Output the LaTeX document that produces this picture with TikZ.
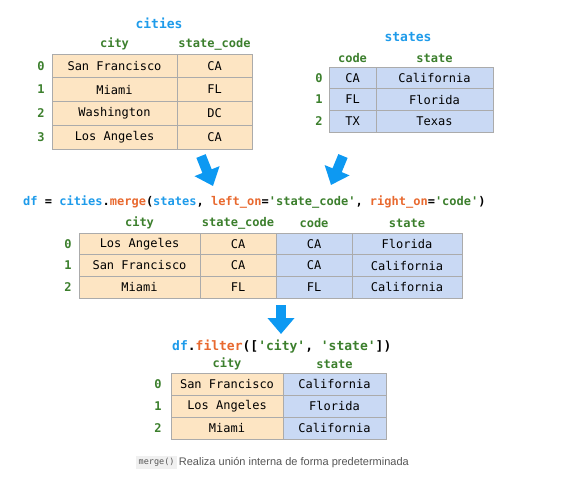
\documentclass[tikz,border=0pt]{standalone}
\usepackage{fontspec}
\setmonofont{DejaVu Sans Mono}
\setsansfont{Liberation Sans}
\usetikzlibrary{arrows.meta}

\definecolor{peach}{HTML}{FDE5C3}
\definecolor{lightblue}{HTML}{C9D9F4}
\definecolor{gridgray}{HTML}{ABABAB}
\definecolor{hdrgreen}{HTML}{3C7F2D}
\definecolor{ttlblue}{HTML}{1E9BEA}
\definecolor{arrowblue}{HTML}{0D99F2}
\definecolor{kworange}{HTML}{E8692F}
\definecolor{notegray}{HTML}{555555}

\newcommand{\cellfont}{\ttfamily\fontsize{12}{14}\selectfont}
\newcommand{\hdrfont}{\ttfamily\bfseries\fontsize{12}{14}\selectfont}

\tikzset{
	cell/.style={draw=gridgray, line width=0.8pt, inner sep=0pt, minimum height=21.7pt, font=\cellfont},
	ocell/.style={cell, fill=peach},
	bcell/.style={cell, fill=lightblue},
	cw/.style={minimum width=#1},
	hdr/.style={font=\hdrfont, text=hdrgreen, inner sep=0pt},
	ttl/.style={font=\ttfamily\bfseries\fontsize{13}{15}\selectfont, text=ttlblue, inner sep=0pt},
	codeline/.style={font=\hdrfont, inner sep=0pt, anchor=west},
	bigarrow/.style={draw=arrowblue, line width=10pt, -{Triangle[width=26pt,length=16pt]}},
}

\begin{document}
\begin{tikzpicture}[x=1pt, y=-1pt]
	\useasboundingbox (0,0) rectangle (564,482);

	\node[ttl] (citiesT) at (159,23) {cities};
	\node[hdr] (citiesH1) at (114.5,44) {city};
	\node[hdr] (citiesH2) at (214.5,44) {state\_code};
	\node[ocell, cw=125pt, minimum height=23.75pt] (c0a) at (114.5,65.9) {San Francisco};
	\node[ocell, cw=75pt, minimum height=23.75pt] (c0b) at (214.5,65.9) {CA};
	\node[ocell, cw=125pt, minimum height=23.75pt] (c1a) at (114.5,89.6) {Miami};
	\node[ocell, cw=75pt, minimum height=23.75pt] (c1b) at (214.5,89.6) {FL};
	\node[ocell, cw=125pt, minimum height=23.75pt] (c2a) at (114.5,113.4) {Washington};
	\node[ocell, cw=75pt, minimum height=23.75pt] (c2b) at (214.5,113.4) {DC};
	\node[ocell, cw=125pt, minimum height=23.75pt] (c3a) at (114.5,137.1) {Los Angeles};
	\node[ocell, cw=75pt, minimum height=23.75pt] (c3b) at (214.5,137.1) {CA};
	\node[hdr] (ci0) at (41,65.9) {0};
	\node[hdr] (ci1) at (41,89.6) {1};
	\node[hdr] (ci2) at (41,113.4) {2};
	\node[hdr] (ci3) at (41,137.1) {3};

	\node[ttl] (statesT) at (408,37) {states};
	\node[hdr] (statesH1) at (352.5,58) {code};
	\node[hdr] (statesH2) at (434.5,58) {state};
	\node[bcell, cw=47pt] (s0a) at (352.5,77.8) {CA};
	\node[bcell, cw=117pt] (s0b) at (434.5,77.8) {California};
	\node[bcell, cw=47pt] (s1a) at (352.5,99.5) {FL};
	\node[bcell, cw=117pt] (s1b) at (434.5,99.5) {Florida};
	\node[bcell, cw=47pt] (s2a) at (352.5,121.2) {TX};
	\node[bcell, cw=117pt] (s2b) at (434.5,121.2) {Texas};
	\node[hdr] (si0) at (319,77.8) {0};
	\node[hdr] (si1) at (319,99.5) {1};
	\node[hdr] (si2) at (319,121.2) {2};

	\coordinate (leftStart) at (201,156);
	\coordinate (leftEnd) at (213,186);
	\coordinate (rightStart) at (343,156);
	\coordinate (rightEnd) at (331,185);
	\draw[bigarrow] (leftStart) -- (leftEnd);
	\draw[bigarrow] (rightStart) -- (rightEnd);

	\node[codeline] (mergeCode) at (23,202) {\textcolor{ttlblue}{df} = \textcolor{ttlblue}{cities}.\textcolor{kworange}{merge}(\textcolor{ttlblue}{states}, \textcolor{kworange}{left\_on}=\textcolor{hdrgreen}{'state\_code'}, \textcolor{kworange}{right\_on}=\textcolor{hdrgreen}{'code'})};

	\node[hdr] (mH1) at (139.5,223) {city};
	\node[hdr] (mH2) at (238,223) {state\_code};
	\node[hdr] (mH3) at (314,223) {code};
	\node[hdr] (mH4) at (407,223) {state};
	\node[ocell, cw=121pt] (m0a) at (139.5,243.8) {Los Angeles};
	\node[ocell, cw=76pt] (m0b) at (238,243.8) {CA};
	\node[bcell, cw=76pt] (m0c) at (314,243.8) {CA};
	\node[bcell, cw=110pt] (m0d) at (407,243.8) {Florida};
	\node[ocell, cw=121pt] (m1a) at (139.5,265.5) {San Francisco};
	\node[ocell, cw=76pt] (m1b) at (238,265.5) {CA};
	\node[bcell, cw=76pt] (m1c) at (314,265.5) {CA};
	\node[bcell, cw=110pt] (m1d) at (407,265.5) {California};
	\node[ocell, cw=121pt] (m2a) at (139.5,287.2) {Miami};
	\node[ocell, cw=76pt] (m2b) at (238,287.2) {FL};
	\node[bcell, cw=76pt] (m2c) at (314,287.2) {FL};
	\node[bcell, cw=110pt] (m2d) at (407,287.2) {California};
	\node[hdr] (mi0) at (68,243.8) {0};
	\node[hdr] (mi1) at (68,265.5) {1};
	\node[hdr] (mi2) at (68,287.2) {2};

	\coordinate (downStart) at (281,305);
	\coordinate (downEnd) at (281,334);
	\draw[bigarrow] (downStart) -- (downEnd);

	\node[codeline, font=\ttfamily\bfseries\fontsize{13}{15}\selectfont] (filterCode) at (172,347) {\textcolor{ttlblue}{df}.\textcolor{kworange}{filter}([\textcolor{hdrgreen}{'city'}, \textcolor{hdrgreen}{'state'}])};

	\node[hdr] (fH1) at (227,364) {city};
	\node[hdr] (fH2) at (334.5,364) {state};
	\node[ocell, cw=112pt, minimum height=22pt] (f0a) at (227,384) {San Francisco};
	\node[bcell, cw=103pt, minimum height=22pt] (f0b) at (334.5,384) {California};
	\node[ocell, cw=112pt, minimum height=22pt] (f1a) at (227,406) {Los Angeles};
	\node[bcell, cw=103pt, minimum height=22pt] (f1b) at (334.5,406) {Florida};
	\node[ocell, cw=112pt, minimum height=22pt] (f2a) at (227,428) {Miami};
	\node[bcell, cw=103pt, minimum height=22pt] (f2b) at (334.5,428) {California};
	\node[hdr] (fi0) at (158,384) {0};
	\node[hdr] (fi1) at (158,406) {1};
	\node[hdr] (fi2) at (158,428) {2};

	\node[fill=black!6, text=notegray, font=\ttfamily\fontsize{8.5}{10}\selectfont, inner xsep=2.5pt, inner ysep=2pt, anchor=west] (noteCode) at (136,462.5) {merge()};
	\node[text=notegray, font=\sffamily\fontsize{11}{13}\selectfont, inner sep=0pt, anchor=west] (noteText) at ([xshift=1.5pt]noteCode.east) {Realiza unión interna de forma predeterminada};
\end{tikzpicture}
\end{document}
